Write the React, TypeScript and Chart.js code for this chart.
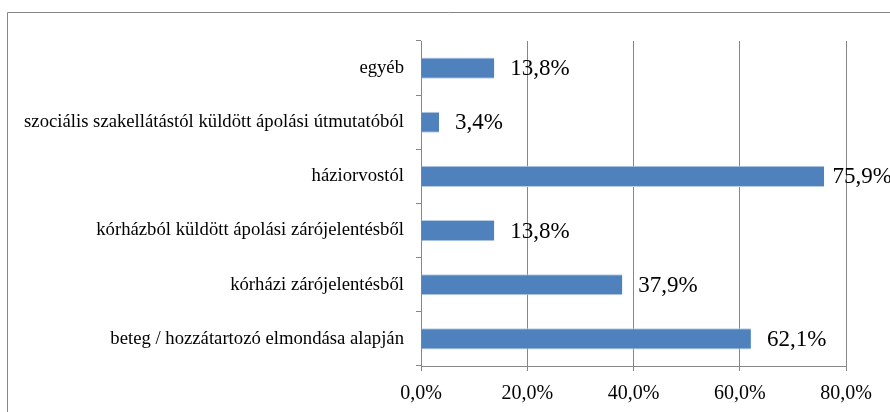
import React, { useEffect, useRef } from "react";
import { Chart, registerables } from "chart.js";

Chart.register(...registerables);

const categories: string[] = [
  "egyéb",
  "szociális szakellátástól küldött ápolási útmutatóból",
  "háziorvostól",
  "kórházból küldött ápolási zárójelentésből",
  "kórházi zárójelentésből",
  "beteg / hozzátartozó elmondása alapján",
];
const values: number[] = [13.8, 3.4, 75.9, 13.8, 37.9, 62.1];
const xTicks: number[] = [0, 20, 40, 60, 80];

const GRID = "#868686";
const FONT = "'Liberation Serif', 'Times New Roman', serif";

const fmt = (v: number) => v.toFixed(1).replace(".", ",") + "%";

const frame = {
  id: "frame",
  beforeDraw(chart: any) {
    const ctx = chart.ctx;
    ctx.save();
    ctx.strokeStyle = GRID;
    ctx.lineWidth = 1;
    ctx.beginPath();
    ctx.moveTo(7.5, 412);
    ctx.lineTo(7.5, 12.5);
    ctx.lineTo(890, 12.5);
    ctx.stroke();
    ctx.restore();
  },
};

const dataLabels = {
  id: "dataLabels",
  afterDatasetsDraw(chart: any) {
    const ctx = chart.ctx;
    const meta = chart.getDatasetMeta(0);
    ctx.save();
    ctx.font = `23px ${FONT}`;
    ctx.fillStyle = "#000";
    ctx.textAlign = "left";
    ctx.textBaseline = "middle";
    meta.data.forEach((el: any, i: number) => {
      const txt = fmt(values[i]);
      const w = ctx.measureText(txt).width;
      const x = Math.min(el.x + 16, chart.width + 2 - w);
      ctx.fillText(txt, x, el.y + 1);
    });
    ctx.restore();
  },
};

export default function App() {
  const ref = useRef<HTMLCanvasElement>(null);
  useEffect(() => {
    if (!ref.current) return;
    const chart = new Chart(ref.current, {
      type: "bar",
      data: {
        labels: categories,
        datasets: [
          {
            data: values,
            backgroundColor: "#4F81BD",
            borderColor: "#B9CDE5",
            borderWidth: { top: 1, bottom: 1, right: 0, left: 0 },
            borderSkipped: false,
            barPercentage: 0.39,
            categoryPercentage: 1,
          },
        ],
      },
      options: {
        indexAxis: "y",
        animation: false,
        responsive: false,
        devicePixelRatio: 1,
        layout: { padding: { top: 41, right: 44, left: 0, bottom: 0 } },
        plugins: { legend: { display: false }, tooltip: { enabled: false } },
        scales: {
          x: {
            min: 0,
            max: 80,
            afterBuildTicks: (scale: any) => {
              scale.ticks = xTicks.map((v) => ({ value: v }));
            },
            afterFit: (scale: any) => {
              scale.height = 46;
            },
            grid: {
              color: GRID,
              lineWidth: 1,
              tickLength: 5,
              drawTicks: true,
            },
            border: { color: GRID, width: 1 },
            ticks: {
              callback: (v: any) => fmt(Number(v)),
              font: { family: FONT, size: 20 },
              color: "#000",
              padding: 11,
              maxRotation: 0,
            },
          },
          y: {
            afterFit: (scale: any) => {
              scale.width = 421;
            },
            grid: {
              color: GRID,
              drawOnChartArea: false,
              drawTicks: true,
              tickLength: 5,
              offset: true,
            },
            border: { color: GRID, width: 1 },
            ticks: {
              font: { family: FONT, size: 18.7 },
              color: "#000",
              padding: 12,
              autoSkip: false,
            },
          },
        },
      },
      plugins: [frame, dataLabels],
    });
    return () => chart.destroy();
  }, []);
  return (
    <div style={{ position: "absolute", left: 0, top: 0, width: 890, height: 412, background: "#fff" }}>
      <canvas ref={ref} width={890} height={412} style={{ display: "block" }} />
    </div>
  );
}
